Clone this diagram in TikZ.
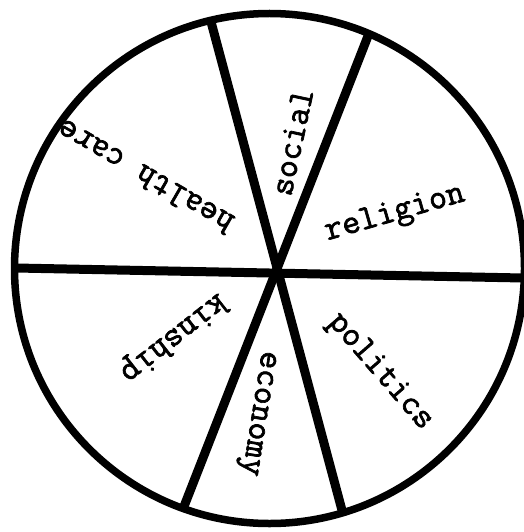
\documentclass[tikz,border=0pt]{standalone}
\usepackage{fontspec}
\newfontfamily\typewriter{Latin Modern Mono}[FakeBold=2]
\begin{document}
\begin{tikzpicture}[x=1pt,y=-1pt,
	spoke/.style={line width=9pt},
	rim/.style={line width=7.5pt},
	sector/.style={font=\fontsize{35}{40}\selectfont\typewriter,inner sep=0pt}]
	\useasboundingbox (0,0) rectangle (523,532);
	\node[sector,rotate=78] (social) at (292,142) {social};
	\node[sector,rotate=16] (religion) at (395,214) {religion};
	\node[sector,rotate=-49] (politics) at (380,372) {politics};
	\node[sector,rotate=-99] (economy) at (256,413) {economy};
	\node[sector,rotate=-142] (kinship) at (173,337) {kinship};
	\node[sector,rotate=150] (health) at (145,177) {health care};
	\coordinate (w) at (16,268);
	\coordinate (e) at (523,278);
	\coordinate (nw) at (210,18);
	\coordinate (se) at (343,514);
	\coordinate (ne) at (368,36);
	\coordinate (sw) at (183,509);
	\draw[spoke] (w) -- (e);
	\draw[spoke] (nw) -- (se);
	\draw[spoke] (ne) -- (sw);
	\draw[rim] (269.5,268.5) circle[radius=255];
\end{tikzpicture}
\end{document}
